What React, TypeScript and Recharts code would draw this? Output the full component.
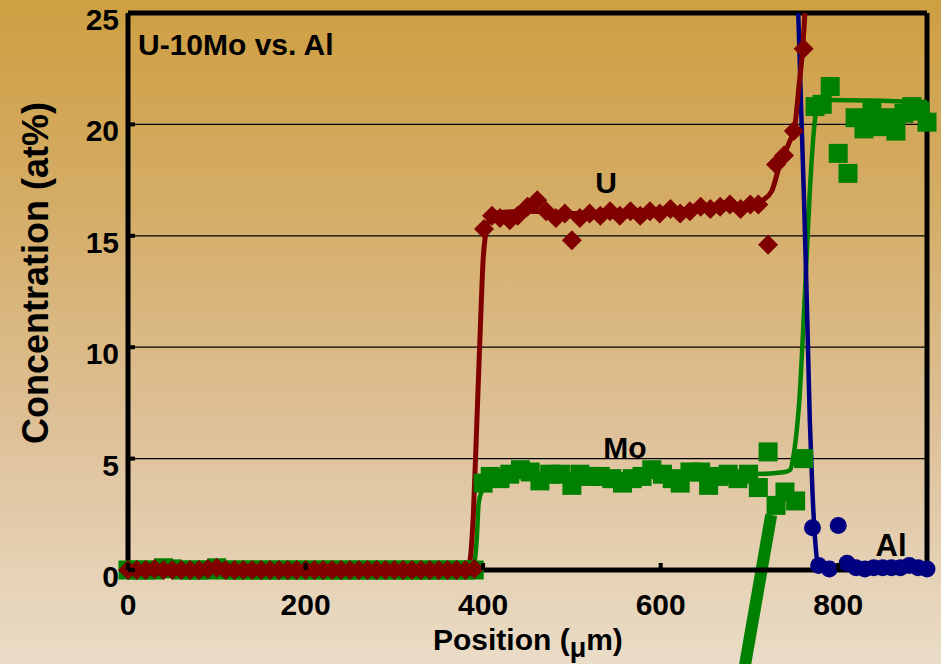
import React from "react";
import {
  ComposedChart,
  Line,
  Scatter,
  XAxis,
  YAxis,
  CartesianGrid,
  ReferenceLine,
} from "recharts";

// measured points (position in µm, concentration in at%)
const uPos = [
  0, 10, 20, 30, 40, 50, 60, 70, 80, 90, 100, 110, 120, 130, 140, 150, 160, 170, 180, 190,
  200, 210, 220, 230, 240, 250, 260, 270, 280, 290, 300, 310, 320, 330, 340, 350, 360, 370, 380, 390,
  401, 410, 419, 430, 439, 450, 461, 471, 482, 492, 500, 509, 520, 532, 543, 554, 566, 577, 588, 599,
  611, 622, 633, 645, 656, 667, 678, 690, 701, 710, 721, 730, 739, 750, 761,
];
const uConc = [
  0, 0, 0, 0.05, 0, 0, 0, 0, 0, 0.05, 0.1, 0, 0, 0, 0, 0, 0, 0, 0, 0,
  0, 0, 0, 0, 0, 0, 0, 0, 0, 0, 0, 0, 0, 0, 0, 0, 0, 0, 0, 0.05,
  15.3, 15.9, 15.8, 15.7, 15.9, 16.3, 16.6, 16.1, 15.8, 16.0, 14.8, 15.8, 16.0, 15.9, 16.1, 15.9, 16.1, 15.9, 16.1, 16.0,
  16.2, 16.0, 16.1, 16.3, 16.2, 16.3, 16.4, 16.2, 16.4, 16.4, 14.6, 18.2, 18.6, 19.7, 23.4,
];

const moPos = [
  0, 10, 20, 30, 40, 50, 60, 70, 80, 90, 100, 110, 120, 130, 140, 150, 160, 170, 180, 190,
  200, 210, 220, 230, 240, 250, 260, 270, 280, 290, 300, 310, 320, 330, 340, 350, 360, 370, 380, 390,
  400, 408, 419, 430, 442, 453, 464, 475, 487, 500, 509, 520, 532, 545, 557, 568, 579, 590, 602, 613,
  622, 633, 645, 654, 665, 676, 687, 699, 710, 721, 730, 740, 752, 761, 774, 782, 791, 800, 811, 819,
  829, 838, 847, 856, 865, 874, 883, 892, 900,
];
const moConc = [
  0, 0, 0, 0, 0.1, 0.05, 0, 0, 0, 0, 0.1, 0, 0, 0, 0, 0, 0, 0, 0, 0,
  0, 0, 0, 0, 0, 0, 0, 0, 0, 0, 0, 0, 0, 0, 0, 0, 0, 0, 0, 0,
  3.9, 4.2, 4.1, 4.3, 4.5, 4.4, 4.0, 4.3, 4.3, 3.8, 4.3, 4.2, 4.2, 4.1, 3.9, 4.1, 4.2, 4.5, 4.3, 4.1,
  3.9, 4.4, 4.4, 3.8, 4.2, 4.3, 4.1, 4.3, 3.7, 5.3, 2.9, 3.5, 3.1, 5.0, 20.8, 20.9, 21.7, 18.7, 17.8, 20.3,
  19.8, 20.6, 19.9, 20.3, 19.7, 20.5, 20.8, 20.6, 20.1,
];

const alPos = [771, 778, 790, 800, 810, 820, 830, 840, 850, 860, 870, 880, 890, 900];
const alConc = [1.9, 0.2, 0.05, 2.0, 0.3, 0.1, 0.05, 0.1, 0.1, 0.1, 0.1, 0.2, 0.1, 0.05];

// fitted profiles
const uFitPos = [0, 380, 385, 389, 393, 397, 400, 404, 411, 450, 500, 600, 700, 715, 725, 735, 745, 751, 756, 760, 762.5];
const uFitConc = [0, 0, 0.4, 2.5, 6.7, 11, 13.9, 15.3, 16.0, 16.1, 16.0, 16.1, 16.3, 16.6, 17.0, 18.3, 19.2, 19.9, 21.8, 23.4, 25];

const moFitPos = [0, 385, 390, 393, 395, 399, 405, 420, 500, 600, 700, 740, 746, 749, 752, 756, 762, 768, 773, 777, 790, 900];
const moFitConc = [0, 0, 0.3, 1.5, 3.0, 3.6, 4.0, 4.2, 4.3, 4.3, 4.3, 4.4, 4.5, 5.0, 5.8, 7.5, 12, 17, 19.9, 21.0, 21.1, 21.0];

const alFitPos = [755, 758, 761.5, 765, 768, 771, 774, 777, 782, 900];
const alFitConc = [25, 21, 16.6, 11.5, 6.7, 3.5, 1.35, 0.3, 0.15, 0.15];

const xTicks = [0, 200, 400, 600, 800];
const yTicks = [0, 5, 10, 15, 20, 25];

const zip = (xs: number[], ys: number[]) => xs.map((x, i) => ({ x, y: ys[i] }));

const uData = zip(uPos, uConc);
const moData = zip(moPos, moConc);
const alData = zip(alPos, alConc);
const uFit = zip(uFitPos, uFitConc);
const moFit = zip(moFitPos, moFitConc);
const alFit = zip(alFitPos, alFitConc);

const RED = "#800000";
const GREEN = "#008000";
const NAVY = "#000080";
const FONT = "'Liberation Sans', Arial, sans-serif";

const Diamond = (props: any) => {
  const { cx, cy } = props;
  const r = 10;
  return <polygon points={`${cx},${cy - r} ${cx + r},${cy} ${cx},${cy + r} ${cx - r},${cy}`} fill={RED} />;
};
const Square = (props: any) => {
  const { cx, cy } = props;
  return <rect x={cx - 9.5} y={cy - 9.5} width={19} height={19} fill={GREEN} />;
};
const Dot = (props: any) => {
  const { cx, cy } = props;
  return <circle cx={cx} cy={cy} r={8.5} fill={NAVY} />;
};

const YTick = (props: any) => {
  const { x, y, payload } = props;
  return (
    <g>
      <line x1={x + 9} x2={x + 16} y1={y} y2={y} stroke="#000" strokeWidth={4} />
      <text x={x} y={y + 17} textAnchor="end" fontSize={30} fontWeight="bold" fontFamily={FONT} fill="#000">
        {payload.value}
      </text>
    </g>
  );
};
const XTick = (props: any) => {
  const { x, y, payload } = props;
  return (
    <g>
      <line x1={x} x2={x} y1={y} y2={y - 7} stroke="#000" strokeWidth={4} />
      <text x={x} y={y + 45} textAnchor="middle" fontSize={30} fontWeight="bold" fontFamily={FONT} fill="#000">
        {payload.value}
      </text>
    </g>
  );
};

export default function App() {
  return (
    <div
      style={{
        position: "absolute",
        left: 0,
        top: 0,
        width: 941,
        height: 664,
        background: "linear-gradient(to bottom, #CE9F42 0%, #D4AC65 30%, #DEC199 65%, #EADCC7 100%)",
        fontFamily: FONT,
      }}
    >
      <ComposedChart width={941} height={664} margin={{ top: 13, right: 14, bottom: 0, left: 0 }}>
        <CartesianGrid horizontal vertical={false} stroke="#000" strokeWidth={1.2} />
        <XAxis
          dataKey="x"
          type="number"
          domain={[0, 900]}
          ticks={xTicks}
          height={94}
          tickSize={0}
          tickMargin={0}
          tick={<XTick />}
          axisLine={{ stroke: "#000", strokeWidth: 5 }}
          tickLine={false}
        />
        <YAxis
          type="number"
          domain={[0, 25]}
          ticks={yTicks}
          width={128}
          tickSize={0}
          tickMargin={9}
          tick={<YTick />}
          axisLine={{ stroke: "#000", strokeWidth: 5 }}
          tickLine={false}
        />
        <ReferenceLine y={25} stroke="#000" strokeWidth={5} />
        <ReferenceLine x={900} stroke="#000" strokeWidth={5} />
        <Scatter data={moData} dataKey="y" shape={<Square />} isAnimationActive={false} />
        <ReferenceLine
          segment={[{ x: 724.5, y: 2.47 }, { x: 691.8, y: -5 }]}
          ifOverflow="visible"
          stroke={GREEN}
          strokeWidth={12}
        />
        <Line data={moFit} dataKey="y" type="monotone" stroke={GREEN} strokeWidth={4.5} dot={false} isAnimationActive={false} />
        <Scatter data={alData} dataKey="y" shape={<Dot />} isAnimationActive={false} />
        <Line data={alFit} dataKey="y" type="monotone" stroke={NAVY} strokeWidth={4.5} dot={false} isAnimationActive={false} />
        <Scatter data={uData} dataKey="y" shape={<Diamond />} isAnimationActive={false} />
        <Line data={uFit} dataKey="y" type="monotone" stroke={RED} strokeWidth={5} dot={false} isAnimationActive={false} />
      </ComposedChart>
      <svg
        width={941}
        height={664}
        style={{ position: "absolute", left: 0, top: 0, pointerEvents: "none" }}
        fontFamily={FONT}
        fontWeight="bold"
      >
        <text x={138} y={55} fontSize={30} fill="#000">U-10Mo vs. Al</text>
        <text x={606} y={193} fontSize={30} textAnchor="middle" fill="#000">U</text>
        <text x={625} y={458} fontSize={30} textAnchor="middle" fill="#000">Mo</text>
        <text x={891} y={556} fontSize={31} textAnchor="middle" fill="#000">Al</text>
        <text x={433} y={650} fontSize={30} fill="#000">
          Position (<tspan fontSize={27} dy={7}>μ</tspan><tspan dy={-7}>m)</tspan>
        </text>
        <text x={48} y={273} fontSize={36} textAnchor="middle" fill="#000" transform="rotate(-90, 48, 273)">
          Concentration (at%)
        </text>
      </svg>
    </div>
  );
}
